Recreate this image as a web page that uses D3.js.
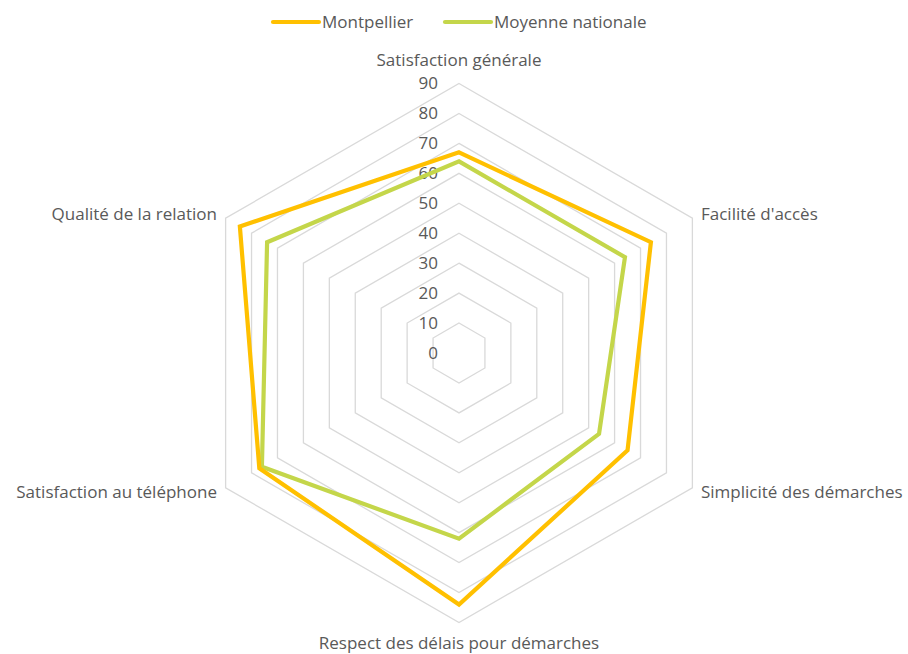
<!DOCTYPE html>
<html>
<head>
<meta charset="utf-8">
<script src="https://cdn.jsdelivr.net/npm/d3@7"></script>
<style>
  body { margin: 0; background: #fff; }
  text { font-family: "Open Sans", Lato, sans-serif; fill: #595959; }
</style>
</head>
<body>
<div id="chart"></div>
<script>
const axes = ["Satisfaction générale", "Facilité d'accès", "Simplicité des démarches",
    "Respect des délais pour démarches", "Satisfaction au téléphone", "Qualité de la relation"];
const montpellier = [67, 74, 65, 84, 77, 84.5];
const moyenne = [64, 64, 54, 62, 76, 74];
const ticks = [0, 10, 20, 30, 40, 50, 60, 70, 80, 90];
const seriesNames = ["Montpellier", "Moyenne nationale"];
const colors = ["#ffc000", "#c4d64a"];

const width = 908, height = 654;
const cx = 459, cy = 353;
const fontSize = 17;

const svg = d3.select("#chart").append("svg")
    .attr("width", width)
    .attr("height", height);

const r = d3.scaleLinear().domain([0, 90]).range([0, 269.5]);
const angle = i => i * 2 * Math.PI / axes.length;
const pt = (v, i) => [cx + r(v) * Math.sin(angle(i)), cy - r(v) * Math.cos(angle(i))];

const g = svg.append("g");

// grid rings
g.selectAll(".ring")
    .data(ticks.filter(t => t > 0))
    .join("polygon")
    .attr("points", t => axes.map((a, i) => pt(t, i).join(",")).join(" "))
    .attr("fill", "none")
    .attr("stroke", "#d9d9d9")
    .attr("stroke-width", 1.3);

// tick labels
g.selectAll(".tick-label")
    .data(ticks)
    .join("text")
    .attr("x", cx - 21)
    .attr("y", t => cy - r(t))
    .attr("dy", "0.35em")
    .attr("text-anchor", "end")
    .attr("font-size", fontSize)
    .text(t => t);

// axis labels
const labelPos = [
    { x: cx, y: 60, anchor: "middle" },
    { x: 701, y: 214, anchor: "start" },
    { x: 701, y: 492, anchor: "start" },
    { x: cx, y: 643, anchor: "middle" },
    { x: 217, y: 492, anchor: "end" },
    { x: 217, y: 214, anchor: "end" }
];
g.selectAll(".axis-label")
    .data(axes)
    .join("text")
    .attr("x", (d, i) => labelPos[i].x)
    .attr("y", (d, i) => labelPos[i].y)
    .attr("dy", "0.35em")
    .attr("text-anchor", (d, i) => labelPos[i].anchor)
    .attr("font-size", fontSize)
    .text(d => d);

// series
const line = d3.line().curve(d3.curveLinearClosed);
[moyenne, montpellier].forEach((vals, k) => {
    const c = k === 0 ? colors[1] : colors[0];
    g.append("path")
        .datum(vals.map((v, i) => pt(v, i)))
        .attr("d", line)
        .attr("fill", "none")
        .attr("stroke", c)
        .attr("stroke-width", 4.2)
        .attr("stroke-linejoin", "miter");
});

// legend
const legendX = [273, 445];
const legend = svg.append("g")
    .selectAll("g")
    .data(seriesNames)
    .join("g")
    .attr("transform", (d, i) => `translate(${legendX[i]},22)`);
legend.append("line")
    .attr("x1", 0).attr("x2", 46)
    .attr("stroke", (d, i) => colors[i])
    .attr("stroke-width", 4.2)
    .attr("stroke-linecap", "round");
legend.append("text")
    .attr("x", 49)
    .attr("dy", "0.35em")
    .attr("font-size", fontSize)
    .text(d => d);
</script>
</body>
</html>
